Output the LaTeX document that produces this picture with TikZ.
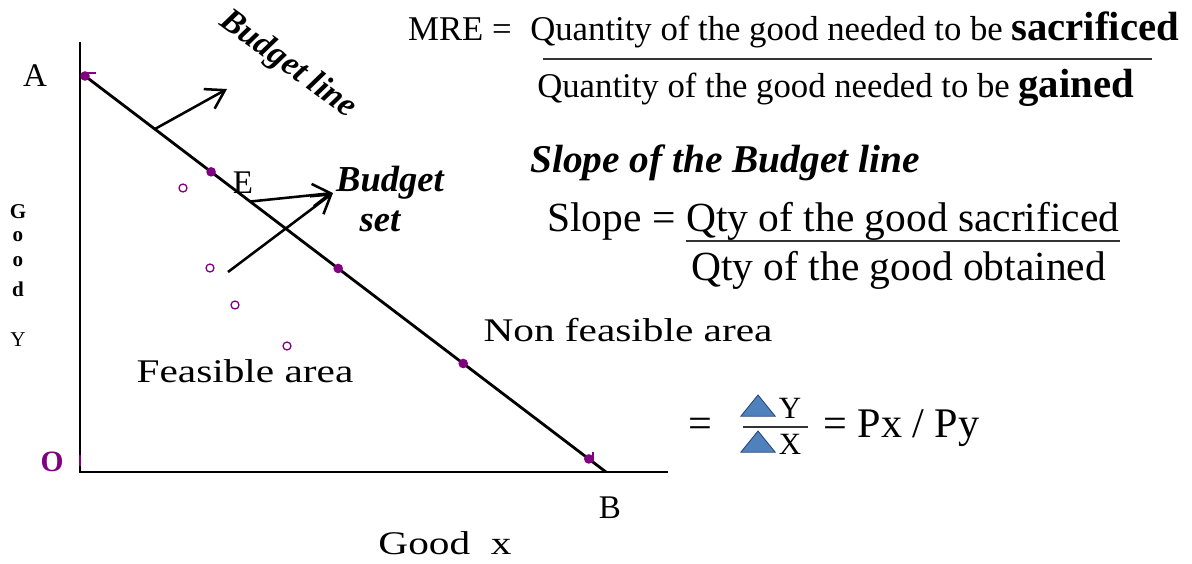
\documentclass[tikz,border=0pt]{standalone}
\usepackage{fontspec}
\setmainfont{Liberation Serif}
\usetikzlibrary{arrows.meta,calc,shapes.geometric}
\definecolor{plum}{RGB}{128,0,128}
\definecolor{triblue}{RGB}{79,129,189}
\definecolor{trinavy}{RGB}{40,70,120}
\newcommand{\fsz}[1]{\fontsize{#1}{#1}\selectfont}

\begin{document}
\begin{tikzpicture}[
  axis/.style={line width=2pt, draw=black},
  bline/.style={line width=2pt, draw=black},
  pointer/.style={-{Straight Barb[length=4.5mm,width=5.6mm,line width=1.8pt]}, line width=1.8pt},
  dot/.style={circle, fill=plum, inner sep=0pt, minimum size=2.4mm},
  hollow/.style={circle, draw=plum, line width=0.9pt, inner sep=0pt, minimum size=2mm},
  letter/.style={font=\fsz{23.5}, inner sep=0pt},
  ylet/.style={font=\fsz{15}\bfseries, inner sep=0pt},
  area/.style={font=\fsz{23.5}, inner sep=0pt},
  delta/.style={isosceles triangle, isosceles triangle apex angle=78, shape border rotate=90,
    fill=triblue, draw=trinavy, line width=0.6pt, minimum height=5.3mm, inner sep=0pt},
  frac/.style={line width=1.2pt, draw=black!80}
]
\useasboundingbox (0,0) rectangle (29.8,14.075);

% axes and budget line
\coordinate (O) at (2.0,2.275);
\coordinate (ytop) at (2.0,13.025);
\coordinate (xend) at (16.7,2.275);
\coordinate (A) at (2.125,12.175);
\coordinate (B) at (15.15,2.275);
\draw[axis] (ytop) -- (O) -- (xend);
\draw[bline] (A) -- (B);

% small marks
\draw[plum, line width=1pt] (2.175,12.25) -- (2.4,12.25);
\draw[plum, line width=1.2pt] (14.825,2.775) -- (14.825,2.525);
\draw[plum, line width=1.6pt] (2.0,2.7) -- (2.0,2.425);

% points on the line
\node[dot] (a0) at (A) {};
\foreach \t [count=\i] in {0.242,0.486,0.726,0.967}
  \node[dot] (a\i) at ($(A)!\t!(B)$) {};

% points below the line
\node[hollow] (h1) at (4.575,9.375) {};
\node[hollow] (h2) at (5.25,7.375) {};
\node[hollow] (h3) at (5.875,6.45) {};
\node[hollow] (h4) at (7.175,5.425) {};

% labels
\node[letter] (lA) at (0.875,12.175) {A};
\node[letter] (lE) at (6.075,9.5) {E};
\node[letter] (lB) at (15.25,1.375) {B};
\node[letter, text=plum, font=\fsz{21}\bfseries] (lO) at (1.3,2.525) {O};
\node[ylet] (g1) at (0.45,8.775) {G};
\node[ylet] (g2) at (0.45,8.15) {o};
\node[ylet] (g3) at (0.45,7.525) {o};
\node[ylet] (g4) at (0.45,6.85) {d};
\node[ylet, font=\fsz{15}] (g5) at (0.45,5.575) {Y};
\node[area] (feas) at (6.125,4.8) {\scalebox{1.25}[1]{Feasible area}};
\node[area] (nonfeas) at (15.7,5.825) {\scalebox{1.25}[1]{Non feasible area}};
\node[area] (goodx) at (11.125,0.5) {\scalebox{1.25}[1]{Good\ \ x}};

% budget line pointer
\coordinate (p1) at ($(A)!0.134!(B)$);
\coordinate (bltip) at (5.675,11.85);
\draw[pointer] (p1) -- (bltip);
\node[font=\fsz{24}\bfseries\itshape, rotate=-36] (bltxt) at (7.2,12.45) {Budget line};

% budget set pointers
\coordinate (p2) at ($(A)!0.317!(B)$);
\coordinate (p3) at (5.7,7.275);
\coordinate (bstip) at (8.325,9.25);
\draw[pointer] (p2) -- (bstip);
\draw[pointer] (p3) -- (bstip);
\node[font=\fsz{26}\bfseries\itshape] (bs1) at (9.75,9.5) {Budget};
\node[font=\fsz{26}\bfseries\itshape] (bs2) at (9.5,8.55) {set};

% MRE
\node[anchor=base east, font=\fsz{24.7}, inner sep=0pt] (mre) at (12.8,13.05) {MRE =};
\node[anchor=base west, font=\fsz{24.7}, inner sep=0pt] (mrenum) at (13.25,13.05)
  {Quantity of the good needed to be \fsz{29}\bfseries sacrificed};
\draw[frac] (13.575,12.6) -- (28.8,12.6);
\node[anchor=base west, font=\fsz{24.7}, inner sep=0pt] (mreden) at (13.425,11.65)
  {Quantity of the good needed to be \fsz{29}\bfseries gained};

% slope
\node[anchor=base west, font=\fsz{28}\bfseries\itshape, inner sep=0pt] (slopett) at (13.25,9.775)
  {Slope of the Budget line};
\node[anchor=base west, font=\fsz{29.5}, inner sep=0pt] (slope) at (13.675,8.3) {Slope =};
\node[anchor=base west, font=\fsz{29.5}, inner sep=0pt] (slopenum) at (17.15,8.3)
  {Qty of the good sacrificed};
\draw[frac] (17.15,8.05) -- (28.0,8.05);
\node[anchor=base west, font=\fsz{29.5}, inner sep=0pt] (slopeden) at (17.275,7.075)
  {Qty of the good obtained};

% delta ratio
\node[font=\fsz{30}, inner sep=0pt] (eq1) at (17.5,3.375) {=};
\node[delta] (dY) at (18.95,3.875) {};
\node[delta] (dX) at (18.95,2.975) {};
\node[font=\fsz{22}, inner sep=0pt] (lY) at (19.75,3.875) {Y};
\node[font=\fsz{22}, inner sep=0pt] (lX) at (19.75,2.975) {X};
\draw[frac] (18.575,3.4) -- (20.2,3.4);
\node[anchor=west, font=\fsz{30}, inner sep=0pt] (pxpy) at (20.575,3.375) {= Px / Py};
\end{tikzpicture}
\end{document}
